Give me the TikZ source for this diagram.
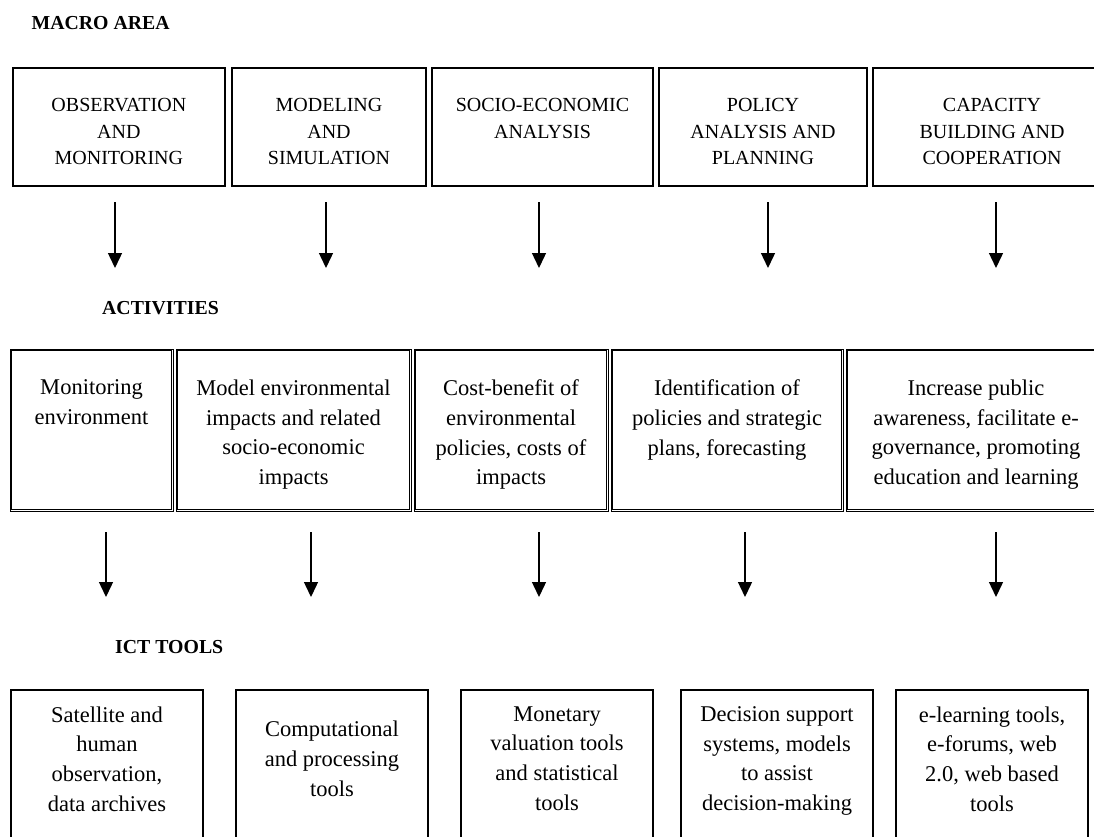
\documentclass[tikz,border=0pt]{standalone}
\usepackage{fontspec}
\setmainfont{Liberation Serif}
\usetikzlibrary{arrows.meta}
\begin{document}
\begin{tikzpicture}[x=1pt,y=-1pt,
  heading/.style={font={\fontsize{19.8}{24}\selectfont\bfseries}, anchor=base west, inner sep=0pt},
  macrobox/.style={draw, line width=1.6pt, minimum height=118pt, inner sep=0pt},
  actbox/.style={draw, line width=0.9pt, minimum height=162pt, inner sep=0pt},
  actinner/.style={draw, line width=0.9pt},
  ictbox/.style={draw, line width=1.2pt, minimum height=170pt, minimum width=192pt, inner sep=0pt},
  macrotext/.style={font={\fontsize{20}{26.5}\selectfont}, align=center, anchor=north, inner sep=0pt, execute at begin node=\strut},
  acttext/.style={font={\fontsize{22.5}{29.8}\selectfont}, align=center, anchor=north, inner sep=0pt, execute at begin node=\strut},
  icttext/.style={font={\fontsize{22.5}{29.7}\selectfont}, align=center, anchor=north, inner sep=0pt, execute at begin node=\strut},
  arr/.style={line width=1.4pt, -{Triangle[width=14pt,length=15pt]}}
]
\useasboundingbox (0,0) rectangle (1094,836);
\clip (0,0) rectangle (1094,836);

% headings
\node[heading] (hmacro) at (31.4,29.3) {MACRO AREA};
\node[heading] (hact) at (102,314.3) {ACTIVITIES};
\node[heading] (hict) at (115,653) {ICT TOOLS};

% macro area boxes
\node[macrobox, minimum width=212.3pt] (m1) at (118.85,126.7) {};
\node[macrobox, minimum width=194pt] (m2) at (329,126.7) {};
\node[macrobox, minimum width=221pt] (m3) at (542.5,126.7) {};
\node[macrobox, minimum width=208pt] (m4) at (763,126.7) {};
\node[macrobox, minimum width=238pt] (m5) at (992,126.7) {};
\node[macrotext] (m1t) at (118.85,98.5) {OBSERVATION\\AND\\MONITORING};
\node[macrotext] (m2t) at (329,98.5) {MODELING\\AND\\SIMULATION};
\node[macrotext] (m3t) at (542.5,98.5) {SOCIO-ECONOMIC\\ANALYSIS};
\node[macrotext] (m4t) at (763,98.5) {POLICY\\ANALYSIS AND\\PLANNING};
\node[macrotext] (m5t) at (992,98.5) {CAPACITY\\BUILDING AND\\COOPERATION};

% activities boxes (double border)
\node[actbox, minimum width=163pt] (a1) at (91.5,430) {};
\node[actbox, minimum width=235pt] (a2) at (293.5,430) {};
\node[actbox, minimum width=194pt] (a3) at (511,430) {};
\node[actbox, minimum width=232pt] (a4) at (727,430) {};
\node[actbox, minimum width=260pt] (a5) at (976,430) {};
\foreach \n in {a1,a2,a3,a4,a5}{
  \draw[actinner] ([shift={(2.1,2.1)}]\n.north west) rectangle ([shift={(-2.1,-2.1)}]\n.south east);
}
\node[acttext] (a1t) at (91.5,379.5) {Monitoring\\environment};
\node[acttext] (a2t) at (293.5,379.5) {Model environmental\\impacts and related\\socio-economic\\impacts};
\node[acttext] (a3t) at (511,379.5) {Cost-benefit of\\environmental\\policies, costs of\\impacts};
\node[acttext] (a4t) at (727,379.5) {Identification of\\policies and strategic\\plans, forecasting};
\node[acttext] (a5t) at (976,379.5) {Increase public\\awareness, facilitate e-\\governance, promoting\\education and learning};

% ICT tools boxes
\node[ictbox] (t1) at (107,775) {};
\node[ictbox] (t2) at (332,775) {};
\node[ictbox] (t3) at (557,775) {};
\node[ictbox] (t4) at (777,775) {};
\node[ictbox] (t5) at (992,775) {};
\node[icttext] (t1t) at (107,706.2) {Satellite and\\human\\observation,\\data archives};
\node[icttext] (t2t) at (332,721) {Computational\\and processing\\tools};
\node[icttext] (t3t) at (557,706.2) {Monetary\\valuation tools\\and statistical\\tools};
\node[icttext] (t4t) at (777,706.2) {Decision support\\systems, models\\to assist\\decision-making};
\node[icttext] (t5t) at (992,706.2) {e-learning tools,\\e-forums, web\\2.0, web based\\tools};

% arrows row 1
\foreach \i/\x in {1/115,2/326,3/539,4/768,5/996}{
  \coordinate (p\i s) at (\x,202);
  \coordinate (p\i e) at (\x,268);
  \draw[arr] (p\i s) -- (p\i e);
}
% arrows row 2
\foreach \i/\x in {1/106,2/311,3/539,4/745,5/996}{
  \coordinate (q\i s) at (\x,532);
  \coordinate (q\i e) at (\x,597);
  \draw[arr] (q\i s) -- (q\i e);
}
\end{tikzpicture}
\end{document}
